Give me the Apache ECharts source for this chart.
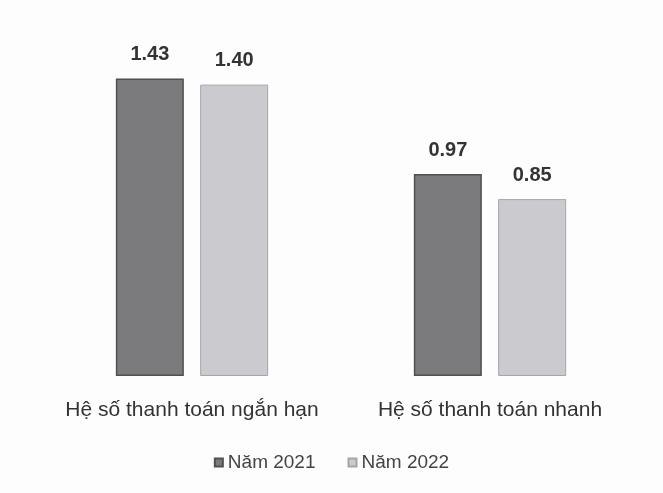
<!DOCTYPE html>
<html><head><meta charset="utf-8">
<script src="https://cdn.jsdelivr.net/npm/echarts@6/dist/echarts.min.js"></script>
<style>html,body{margin:0;padding:0;background:#fff}#c{width:663px;height:493px}</style>
</head><body><div id="c"></div>
<script>
const categories = ["Hệ số thanh toán ngắn hạn", "Hệ số thanh toán nhanh"];
const seriesNames = ["Năm 2021", "Năm 2022"];
const values2021 = [1.43, 0.97];
const values2022 = [1.40, 0.85];

const chart = echarts.init(document.getElementById('c'));
const font = '"Liberation Sans", "Open Sans", sans-serif';
chart.setOption({
  backgroundColor: '#fdfdfd',
  animation: false,
  grid: {left: 43, right: 24, top: 43, bottom: 117},
  legend: {
    bottom: 16, left: 'center', icon: 'rect', itemWidth: 8, itemHeight: 8, itemGap: 32,
    textStyle: {fontFamily: font, fontSize: 19, color: '#444'},
    data: seriesNames
  },
  xAxis: {
    type: 'category', data: categories,
    axisLine: {show: false}, axisTick: {show: false},
    axisLabel: {interval: 0, margin: 24, fontFamily: font, fontSize: 21, color: '#333'}
  },
  yAxis: {type: 'value', min: 0, max: 1.6, show: false, splitLine: {show: false}},
  series: [
    {name: seriesNames[0], type: 'bar', data: values2021, barWidth: 68, barGap: '24%',
     itemStyle: {color: '#7b7b7d', borderColor: '#505052', borderWidth: 1.5},
     label: {show: true, position: 'top', distance: 14, formatter: p => p.value.toFixed(2),
             fontFamily: font, fontSize: 20, fontWeight: 'bold', color: '#333'}},
    {name: seriesNames[1], type: 'bar', data: values2022, barWidth: 68,
     itemStyle: {color: '#cbcbcf', borderColor: '#a5a5a8', borderWidth: 1},
     label: {show: true, position: 'top', distance: 14, formatter: p => p.value.toFixed(2),
             fontFamily: font, fontSize: 20, fontWeight: 'bold', color: '#333'}}
  ]
});
</script></body></html>
